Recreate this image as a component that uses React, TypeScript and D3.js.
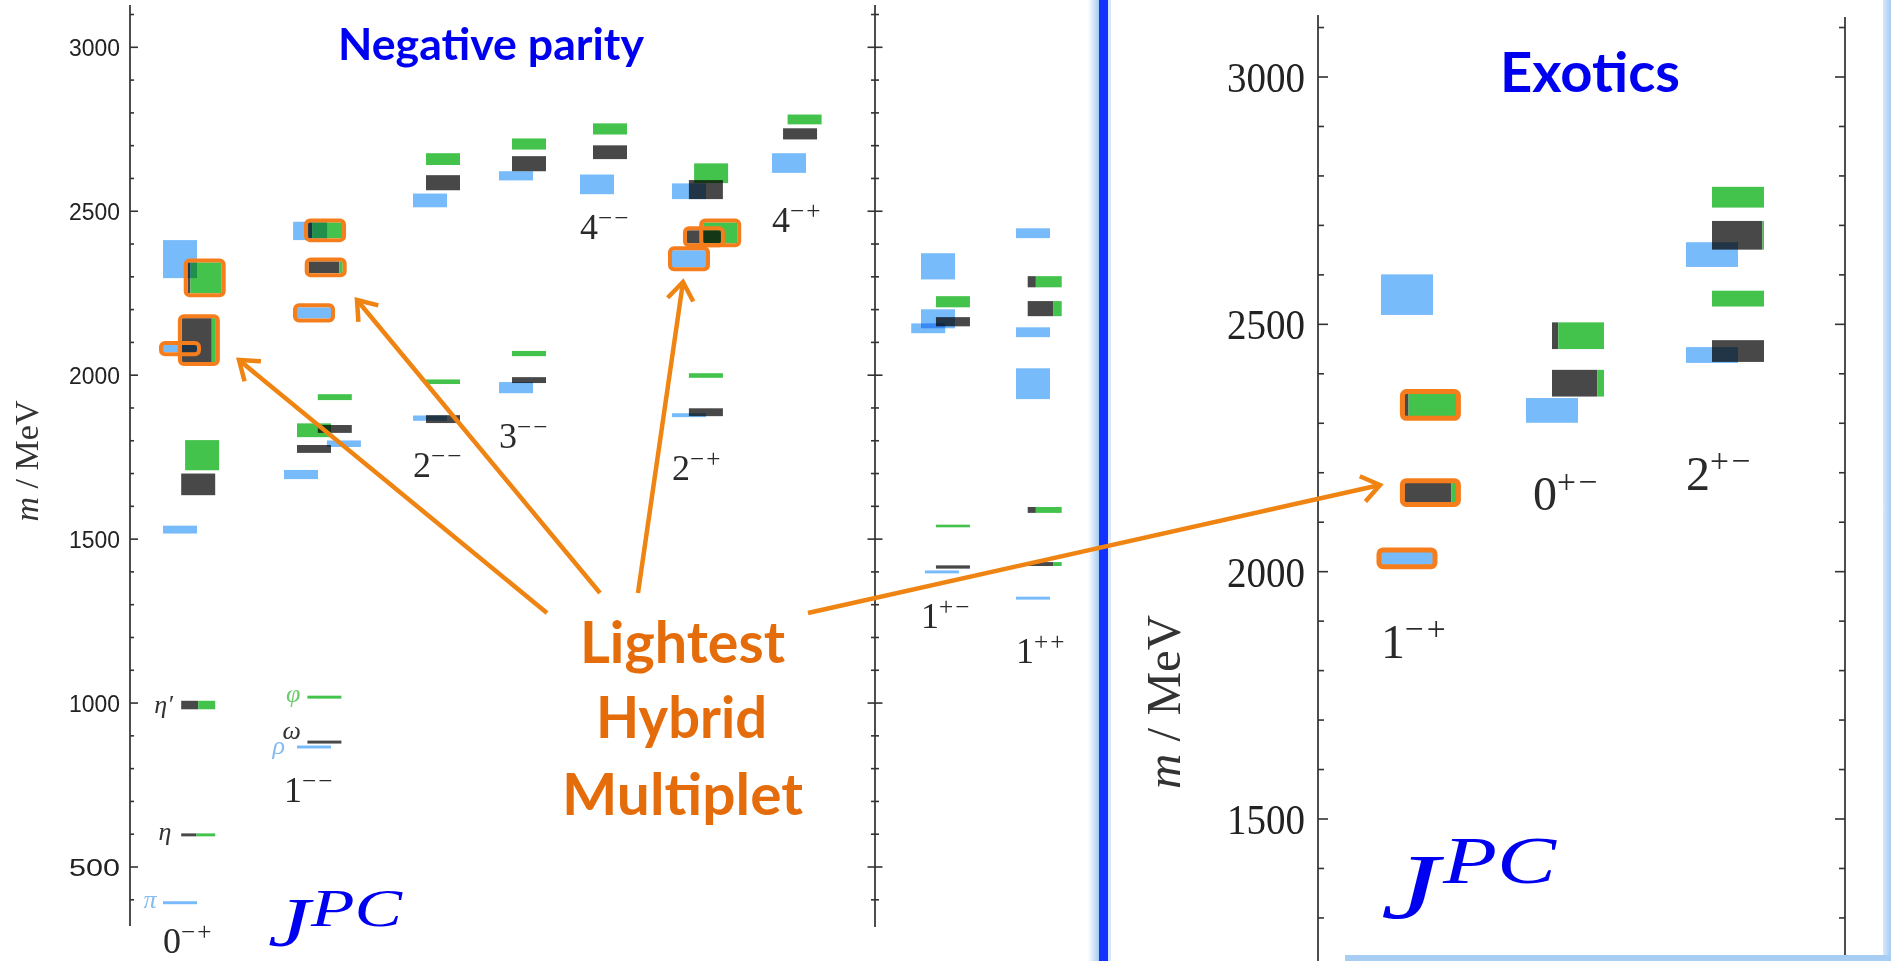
import React from "react";
import * as d3 from "d3";

// ---------------- DATA ----------------
const negCats = ["0-+", "1--", "2--", "3--", "4--", "2-+", "4-+", "1+-", "1++"];
const exoCats = ["1-+", "0+-", "2+-"];

// isovector (light, blue) levels: [JPC, slot, mass MeV, half-width MeV, highlighted]
const negIsovector: [string, number, number, number, number][] = [
  ["0-+", 0, 391, 4.5, 0],
  ["0-+", 0, 1529, 12, 0],
  ["0-+", 0, 2354, 58, 0],
  ["0-+", 0, 2081, 11, 1],
  ["1--", 1, 866, 4.5, 0],
  ["1--", 0, 1697, 14, 0],
  ["1--", 3.3, 1791, 10, 0],
  ["1--", 1, 2190, 17, 1],
  ["1--", 0.7, 2440, 28, 0],
  ["2--", 0, 1869, 8, 0],
  ["2--", 0, 2533, 21, 0],
  ["3--", 0, 1962, 17, 0],
  ["3--", 0, 2608, 14, 0],
  ["4--", 0, 2582, 30, 0],
  ["2-+", 0, 1878, 6, 0],
  ["2-+", 0, 2355, 26, 1],
  ["2-+", 0, 2561, 24, 0],
  ["4-+", 0, 2647, 30, 0],
  ["1+-", 0.3, 1400, 4.5, 0],
  ["1+-", -0.75, 2143, 15, 0],
  ["1+-", 0, 2172, 29, 0],
  ["1+-", 0, 2332, 40, 0],
  ["1++", 0, 1320, 4.5, 0],
  ["1++", 0, 1974, 47, 0],
  ["1++", 0, 2131, 15, 0],
  ["1++", 0, 2433, 15, 0],
];

// isoscalar levels: [JPC, slot, mass, half-width, light (black) fraction, highlighted]
const negIsoscalar: [string, number, number, number, number, number][] = [
  ["0-+", 1.4, 598, 4.5, 0.45, 0],
  ["0-+", 1.4, 994, 13, 0.5, 0],
  ["0-+", 1.4, 1667, 33, 1, 0],
  ["0-+", 1.7, 1756, 46, 0, 0],
  ["0-+", 1.45, 2107, 67, 0.88, 1],
  ["0-+", 1.9, 2297, 47, 0.08, 1],
  ["1--", 1.8, 881, 4.5, 1, 0],
  ["1--", 1.8, 1018, 4.5, 0, 0],
  ["1--", 1, 1775, 12, 1, 0],
  ["1--", 1, 1832, 21, 0, 0],
  ["1--", 2.6, 1836, 12, 1, 0],
  ["1--", 2.6, 1933, 9, 0, 0],
  ["1--", 1.9, 2329, 18, 0.9, 1],
  ["1--", 1.85, 2442, 24, 0.12, 1],
  ["2--", 1, 1866, 12, 1, 0],
  ["2--", 1, 1980, 7, 0, 0],
  ["2--", 1, 2587, 23, 1, 0],
  ["2--", 1, 2659, 18, 0, 0],
  ["3--", 1, 1985, 9, 1, 0],
  ["3--", 1, 2066, 8, 0, 0],
  ["3--", 1, 2645, 23, 1, 0],
  ["3--", 1, 2705, 17, 0, 0],
  ["4--", 1, 2680, 21, 1, 0],
  ["4--", 1, 2751, 17, 0, 0],
  ["2-+", 1.3, 1887, 12, 1, 0],
  ["2-+", 1.3, 1999, 7, 0, 0],
  ["2-+", 1.15, 2422, 20, 1, 1],
  ["2-+", 2.4, 2434, 32, 0, 1],
  ["2-+", 1.3, 2566, 29, 1, 0],
  ["2-+", 1.7, 2616, 30, 0, 0],
  ["4-+", 0.85, 2736, 17, 1, 0],
  ["4-+", 1.2, 2780, 15, 0, 0],
  ["1+-", 1.15, 1415, 5, 1, 0],
  ["1+-", 1.15, 1540, 4, 0, 0],
  ["1+-", 1.15, 2163, 14, 1, 0],
  ["1+-", 1.15, 2224, 17, 0, 0],
  ["1++", 0.9, 1424, 6, 0.76, 0],
  ["1++", 0.9, 1589, 9, 0.24, 0],
  ["1++", 0.9, 2203, 23, 0.76, 0],
  ["1++", 0.9, 2285, 17, 0.24, 0],
];

const exoIsovector: [string, number, number, number, number][] = [
  ["1-+", 0, 2027, 13, 1],
  ["1-+", 0, 2560, 41, 0],
  ["0+-", 0, 2326, 25, 0],
  ["2+-", 0, 2438, 16, 0],
  ["2+-", 0, 2641, 25, 0],
];

const exoIsoscalar: [string, number, number, number, number, number][] = [
  ["1-+", 0.9, 2160, 20, 0.9, 1],
  ["1-+", 0.9, 2337, 23, 0.08, 1],
  ["0+-", 1, 2381, 27, 0.87, 0],
  ["0+-", 1, 2477, 27, 0.12, 0],
  ["2+-", 1, 2446, 22, 1, 0],
  ["2+-", 1, 2552, 16, 0, 0],
  ["2+-", 1, 2680, 29, 0.97, 0],
  ["2+-", 1, 2757, 21, 0, 0],
];

// ground-state particle names: [name, JPC, mass, colour key]
const particleNames: [string, string, number, string][] = [
  ["π", "0-+", 391, "b"],
  ["η", "0-+", 598, "k"],
  ["η′", "0-+", 994, "k"],
  ["φ", "1--", 1018, "g"],
  ["ω", "1--", 881, "k"],
  ["ρ", "1--", 866, "b"],
];

const negTickLabels = [500, 1000, 1500, 2000, 2500, 3000];
const exoTickLabels = [1500, 2000, 2500, 3000];

// ---------------- LAYOUT ----------------
const W = 1891;
const H = 961;
const C_BLUE = "#78bbfa";
const C_GREEN = "#44c34c";
const C_DARK = "#484848";
const C_HL = "#f57d1c";
const C_ARROW = "#ef8412";
const C_TEXT_OR = "#e46c0a";
const C_TITLE = "#0000f0";
const SERIF = "'Liberation Serif', 'DejaVu Serif', serif";
const SANS = "Lato, 'Open Sans', sans-serif";
const TICKSANS = "'Liberation Sans', Arial, sans-serif";

const yNeg = d3.scaleLinear().domain([500, 3000]).range([867, 47.3]);
const yExo = d3.scaleLinear().domain([1500, 3000]).range([819, 77]);
const xNeg = d3
  .scaleOrdinal<string, number>()
  .domain(negCats)
  .range([163, 284, 413, 499, 580, 672, 772, 921, 1016]);
const xExo = d3.scaleOrdinal<string, number>().domain(exoCats).range([1381, 1526, 1686]);
const slotNeg = d3.scaleLinear().domain([0, 1]).range([0, 13]);
const slotExo = d3.scaleLinear().domain([0, 1]).range([0, 26]);

// label anchors (mass of baseline)
const negLabelMass: Record<string, number> = {
  "0-+": 239, "1--": 699, "2--": 1690, "3--": 1778, "4--": 2416,
  "2-+": 1681, "4-+": 2437, "1+-": 1229, "1++": 1122,
};
const exoLabelMass: Record<string, number> = { "1-+": 1826, "0+-": 2125, "2+-": 2166 };
// particle-name placement: [slot of centre, baseline shift px]
const particlePlace: Record<string, [number, number]> = {
  "π": [-1.0, 5],
  "η": [0.15, 5],
  "η′": [0.05, 8],
  "φ": [0.7, 5],
  "ω": [0.6, -3],
  "ρ": [-0.4, 7],
};

const arrows = [
  { from: [547, 613], to: [239, 360] },
  { from: [600, 593], to: [357, 300] },
  { from: [638, 593], to: [683, 282] },
  { from: [808, 613], to: [1380, 485] },
];

type Box = { x: number; w: number; y0: number; y1: number; frac: number | null; hl: boolean };

function buildBoxes(
  iv: [string, number, number, number, number][],
  is: [string, number, number, number, number, number][],
  xs: (c: string) => number,
  slot: d3.ScaleLinear<number, number>,
  y: d3.ScaleLinear<number, number>,
  w: number
): Box[] {
  const out: Box[] = [];
  iv.forEach(([c, s, m, dm, hl]) => {
    out.push({ x: xs(c) + slot(s), w, y0: y(m + dm), y1: y(m - dm), frac: null, hl: !!hl });
  });
  is.forEach(([c, s, m, dm, f, hl]) => {
    out.push({ x: xs(c) + slot(s), w, y0: y(m + dm), y1: y(m - dm), frac: f, hl: !!hl });
  });
  return out;
}

function BoxMarks({ boxes, hlWidth }: { boxes: Box[]; hlWidth: number }) {
  return (
    <g>
      <g style={{ isolation: "isolate" }}>
        {boxes.map((b, i) => {
          const h = Math.max(2.5, b.y1 - b.y0);
          const yc = (b.y0 + b.y1) / 2;
          const top = yc - h / 2;
          if (b.frac === null) {
            return (
              <rect key={i} x={b.x} y={top} width={b.w} height={h} fill={C_BLUE}
                style={{ mixBlendMode: "multiply" }} />
            );
          }
          const wb = b.w * b.frac;
          return (
            <g key={i} style={{ mixBlendMode: "multiply" }}>
              {wb > 0 && <rect x={b.x} y={top} width={wb} height={h} fill={C_DARK} />}
              {wb < b.w && <rect x={b.x + wb} y={top} width={b.w - wb} height={h} fill={C_GREEN} />}
            </g>
          );
        })}
      </g>
      {boxes
        .filter((b) => b.hl)
        .map((b, i) => (
          <rect key={"h" + i} x={b.x - 2} y={b.y0 - 2} width={b.w + 4} height={b.y1 - b.y0 + 4}
            rx={4} fill="none" stroke={C_HL} strokeWidth={hlWidth} />
        ))}
    </g>
  );
}

function JpcLabel({ x, y, label, size }: { x: number; y: number; label: string; size: number }) {
  const digit = label[0];
  const signs = label.slice(1).replace(/-/g, "\u2212");
  return (
    <text x={x} y={y} fontFamily={SERIF} fontSize={size} fill="#2a2a2a">
      {digit}
      <tspan fontSize={size * 0.7} dy={-size * 0.36} letterSpacing={size * 0.06}>
        {signs}
      </tspan>
    </text>
  );
}

function Axis({
  x, y, y0, y1, minor, major, side, majorLen, minorLen,
}: {
  x: number; y: d3.ScaleLinear<number, number>; y0: number; y1: number;
  minor: number[]; major: number[]; side: "right" | "left" | "both"; majorLen: number; minorLen: number;
}) {
  const tick = (m: number, len: number, k: string) => {
    const yy = y(m);
    const x0 = side === "right" ? x : x - len;
    const x1 = side === "left" ? x : x + len;
    return <line key={k} x1={x0} x2={x1} y1={yy} y2={yy} stroke="#333" strokeWidth={1.6} />;
  };
  return (
    <g>
      <line x1={x} x2={x} y1={y0} y2={y1} stroke="#3a3a3a" strokeWidth={1.8} />
      {minor.filter((m) => !major.includes(m)).map((m) => tick(m, minorLen, "mi" + m))}
      {major.map((m) => tick(m, majorLen, "ma" + m))}
    </g>
  );
}

function Arrow({ from, to }: { from: number[]; to: number[] }) {
  const ang = Math.atan2(to[1] - from[1], to[0] - from[0]);
  const L = 22;
  const spread = (36 * Math.PI) / 180;
  const a1 = [to[0] - L * Math.cos(ang - spread), to[1] - L * Math.sin(ang - spread)];
  const a2 = [to[0] - L * Math.cos(ang + spread), to[1] - L * Math.sin(ang + spread)];
  const path = d3.path();
  path.moveTo(from[0], from[1]);
  path.lineTo(to[0], to[1]);
  const head = d3.path();
  head.moveTo(a1[0], a1[1]);
  head.lineTo(to[0], to[1]);
  head.lineTo(a2[0], a2[1]);
  return (
    <g fill="none" stroke={C_ARROW} strokeWidth={4.5} strokeLinecap="butt" strokeLinejoin="miter">
      <path d={path.toString()} />
      <path d={head.toString()} />
    </g>
  );
}

export default function App() {
  const negBoxes = buildBoxes(negIsovector, negIsoscalar, (c) => xNeg(c), slotNeg, yNeg, 34);
  const exoBoxes = buildBoxes(exoIsovector, exoIsoscalar, (c) => xExo(c), slotExo, yExo, 52);

  const negMinor = d3.range(400, 3101, 100);
  const exoMinor = d3.range(1300, 3101, 100);

  const pColor: Record<string, string> = { b: "#86bdf0", k: "#333", g: "#6ccb6c" };

  return (
    <svg width={W} height={H} viewBox={`0 0 ${W} ${H}`}
      style={{ position: "absolute", left: 0, top: 0, background: "#fff" }}>
      <defs>
        <linearGradient id="glow" x1="0" x2="1" y1="0" y2="0">
          <stop offset="0" stopColor="#ffffff" />
          <stop offset="1" stopColor="#a6cbf2" />
        </linearGradient>
        <linearGradient id="glowR" x1="0" x2="1" y1="0" y2="0">
          <stop offset="0" stopColor="#d8e8fb" />
          <stop offset="1" stopColor="#a6cbf2" />
        </linearGradient>
      </defs>
      <rect x={0} y={0} width={W} height={H} fill="#fff" />

      {/* ----- Left panel axes ----- */}
      <Axis x={130} y={yNeg} y0={5} y1={926} minor={negMinor} major={negTickLabels}
        side="right" majorLen={8} minorLen={4} />
      <Axis x={875} y={yNeg} y0={5} y1={927} minor={negMinor} major={negTickLabels}
        side="both" majorLen={7.5} minorLen={4} />
      {negTickLabels.map((t) => (
        <text key={t} x={120} y={yNeg(t) + 9} fontFamily={TICKSANS} fontSize={24} textAnchor="end"
          textLength={51} lengthAdjust="spacingAndGlyphs" fill="#222">
          {t}
        </text>
      ))}
      <text transform={`translate(38,461) rotate(-90)`} textAnchor="middle" fontFamily={SERIF}
        fontSize={34} fill="#333">
        <tspan fontStyle="italic">m</tspan> / MeV
      </text>

      {/* ----- Right panel axes ----- */}
      <Axis x={1318} y={yExo} y0={15} y1={961} minor={exoMinor} major={exoTickLabels}
        side="right" majorLen={10} minorLen={6} />
      <Axis x={1845} y={yExo} y0={17} y1={961} minor={exoMinor} major={exoTickLabels}
        side="left" majorLen={10} minorLen={6} />
      {exoTickLabels.map((t) => (
        <text key={t} x={1227} y={yExo(t) + 15} fontFamily={SERIF} fontSize={42}
          textLength={78} lengthAdjust="spacingAndGlyphs" fill="#222">
          {t}
        </text>
      ))}
      <text transform={`translate(1180,702) rotate(-90)`} textAnchor="middle" fontFamily={SERIF}
        fontSize={49} fill="#333">
        <tspan fontStyle="italic">m</tspan> / MeV
      </text>

      {/* ----- Boxes ----- */}
      <BoxMarks boxes={negBoxes} hlWidth={4} />
      <BoxMarks boxes={exoBoxes} hlWidth={5} />

      {/* particle names */}
      {particleNames.map(([n, c, m, col]) => (
        <text key={n} x={xNeg(c) + slotNeg(particlePlace[n][0])} y={yNeg(m) + particlePlace[n][1]}
          fontFamily={SERIF} fontStyle="italic" fontSize={26} fill={pColor[col]} textAnchor="middle">
          {n}
        </text>
      ))}

      {/* JPC labels */}
      {negCats.map((c) => (
        <JpcLabel key={c} x={xNeg(c)} y={yNeg(negLabelMass[c])} label={c} size={36} />
      ))}
      {exoCats.map((c, i) => (
        <JpcLabel key={c} x={xExo(c) + (i === 1 ? 7 : 0)} y={yExo(exoLabelMass[c])} label={c} size={48} />
      ))}

      {/* J^PC */}
      <text x={268} y={946} fontFamily={SERIF} fontStyle="italic" fontSize={70} fill={C_TITLE}
        textLength={42} lengthAdjust="spacingAndGlyphs">J</text>
      <text x={311} y={926} fontFamily={SERIF} fontStyle="italic" fontSize={52} fill={C_TITLE}
        textLength={91} lengthAdjust="spacingAndGlyphs">PC</text>
      <text x={1381} y={918} fontFamily={SERIF} fontStyle="italic" fontSize={94} fill={C_TITLE}
        textLength={58} lengthAdjust="spacingAndGlyphs">J</text>
      <text x={1443} y={883} fontFamily={SERIF} fontStyle="italic" fontSize={68} fill={C_TITLE}
        textLength={113} lengthAdjust="spacingAndGlyphs">PC</text>

      {/* titles */}
      <text x={338} y={60} fontFamily={SANS} fontWeight={700} fontSize={44} fill={C_TITLE}
        textLength={306} lengthAdjust="spacingAndGlyphs">Negative parity</text>
      <text x={1500} y={92} fontFamily={SANS} fontWeight={700} fontSize={55} fill={C_TITLE}
        textLength={180} lengthAdjust="spacingAndGlyphs">Exotics</text>

      {/* divider */}
      <rect x={1088} y={0} width={11} height={H} fill="url(#glow)" />
      <rect x={1099} y={0} width={9} height={H} fill="#1232ff" />
      <rect x={1108} y={0} width={3} height={H} fill="#d6e6fb" />
      <rect x={1883} y={0} width={8} height={H} fill="url(#glowR)" />
      <rect x={1345} y={955} width={W - 1345} height={6} fill="#a8cdf3" />

      {/* annotation */}
      {arrows.map((a, i) => (
        <Arrow key={i} from={a.from} to={a.to} />
      ))}
      <g fontFamily={SANS} fontWeight={700} fontSize={58} fill={C_TEXT_OR}>
        <text x={580} y={663} textLength={205} lengthAdjust="spacingAndGlyphs">Lightest</text>
        <text x={596} y={738} textLength={171} lengthAdjust="spacingAndGlyphs">Hybrid</text>
        <text x={562} y={815} textLength={241} lengthAdjust="spacingAndGlyphs">Multiplet</text>
      </g>
    </svg>
  );
}
